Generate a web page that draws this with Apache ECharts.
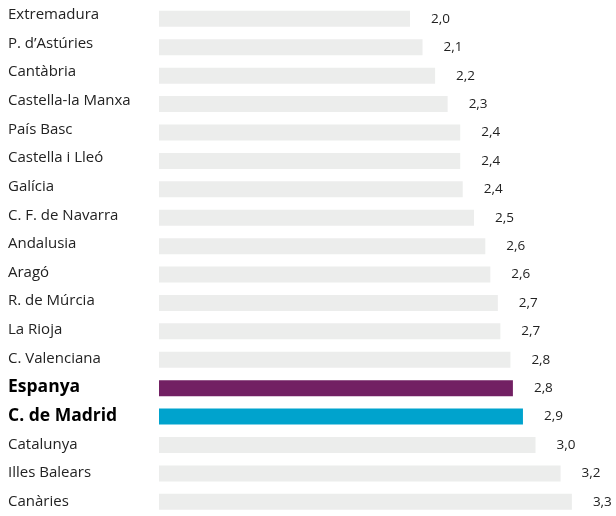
<!DOCTYPE html>
<html>
<head>
<meta charset="utf-8">
<script src="https://cdn.jsdelivr.net/npm/echarts@6/dist/echarts.min.js"></script>
<style>
html,body{margin:0;padding:0;background:#fff;}
#chart{width:616px;height:516px;}
</style>
</head>
<body>
<div id="chart"></div>
<script>
var categories = ['Extremadura', 'P. d\u2019Astúries', 'Cantàbria', 'Castella-la Manxa', 'País Basc', 'Castella i Lleó', 'Galícia', 'C. F. de Navarra', 'Andalusia', 'Aragó', 'R. de Múrcia', 'La Rioja', 'C. Valenciana', 'Espanya', 'C. de Madrid', 'Catalunya', 'Illes Balears', 'Canàries'];
var values = [2.0, 2.1, 2.2, 2.3, 2.4, 2.4, 2.42, 2.51, 2.6, 2.64, 2.7, 2.72, 2.8, 2.82, 2.9, 3.0, 3.2, 3.29];
var highlighted = ['Espanya', 'C. de Madrid'];

var colorFor = {'Espanya': '#722063', 'C. de Madrid': '#00a3cd'};
var seriesData = values.map(function (v, i) {
  var c = categories[i];
  return { value: v, itemStyle: { color: colorFor[c] || '#ecedec' } };
});

var chart = echarts.init(document.getElementById('chart'));
chart.setOption({
  animation: false,
  grid: [
    { left: 159, top: 4.67, width: 439.25, height: 512.3 },
    { left: 159, top: 0.5, width: 439.25, height: 522.9 }
  ],
  xAxis: [
    { type: 'value', min: 0, max: 3.5, show: false, gridIndex: 0 },
    { type: 'value', min: 0, max: 3.5, show: false, gridIndex: 1 }
  ],
  yAxis: [
    { type: 'category', data: categories, inverse: true, gridIndex: 0,
      axisLine: { show: false }, axisTick: { show: false }, axisLabel: { show: false } },
    {
      type: 'category', data: categories, inverse: true, gridIndex: 1,
      axisLine: { show: false }, axisTick: { show: false },
      axisLabel: {
        align: 'left', margin: 151, color: '#222',
        fontFamily: 'Open Sans', fontSize: 15,
        formatter: function (v) { return highlighted.indexOf(v) >= 0 ? '{b|' + v + '}' : v; },
        rich: { b: { fontWeight: 'bold', fontFamily: 'Open Sans', fontSize: 17.5, color: '#000' } }
      }
    }
  ],
  series: [{
    type: 'bar', data: seriesData, barWidth: 16, xAxisIndex: 0, yAxisIndex: 0,
    label: {
      show: true, position: 'right', distance: 21,
      fontFamily: 'Open Sans', fontSize: 13.5, color: '#222',
      formatter: function (p) { return p.value.toFixed(1).replace('.', ','); }
    }
  }]
});
</script>
</body>
</html>
